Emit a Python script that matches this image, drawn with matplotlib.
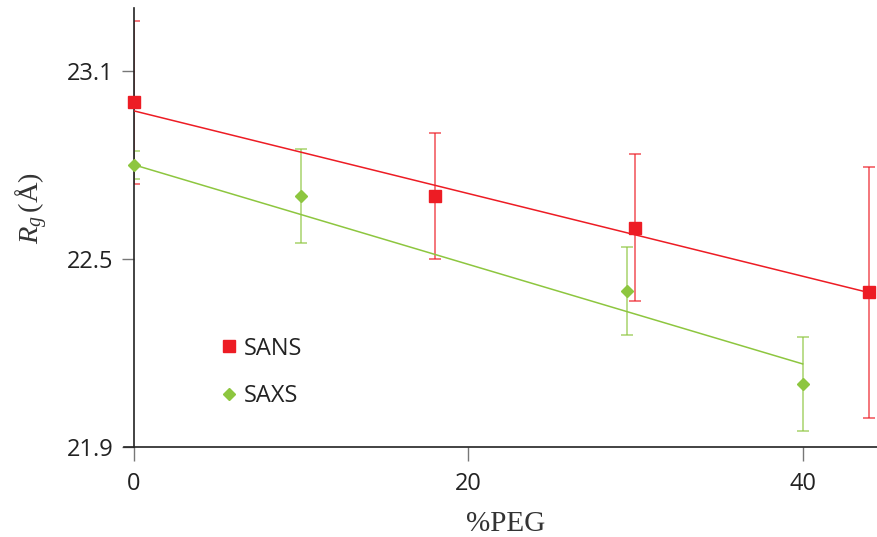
import matplotlib.pyplot as plt
import numpy as np

plt.rcParams['mathtext.fontset'] = 'custom'
plt.rcParams['mathtext.it'] = 'Liberation Serif:italic'
plt.rcParams['mathtext.rm'] = 'Liberation Serif'

# data
peg_sans = [0, 18, 30, 44]
rg_sans = [23.00, 22.70, 22.60, 22.394]
err_sans = [0.26, 0.20, 0.235, 0.40]

peg_saxs = [0, 10, 29.5, 40]
rg_saxs = [22.80, 22.70, 22.398, 22.10]
err_saxs = [0.045, 0.15, 0.14, 0.15]

# trend lines (end points)
trend_sans_x = [0, 44]
trend_sans_y = [22.972, 22.392]
trend_saxs_x = [0, 40]
trend_saxs_y = [22.80, 22.165]

red = '#ed1c24'
green = '#8dc63f'

fig = plt.figure(figsize=(8.77, 5.37), dpi=100)
ax = fig.add_axes([0.1528, 0.1676, 0.8472, 0.8174])

ax.errorbar(peg_sans, rg_sans, yerr=err_sans, fmt='none', ecolor=red, alpha=0.7,
            elinewidth=1.2, capsize=4, capthick=1.2, zorder=2)
ax.errorbar(peg_saxs, rg_saxs, yerr=err_saxs, fmt='none', ecolor=green, alpha=0.7,
            elinewidth=1.2, capsize=4, capthick=1.2, zorder=2)

ax.plot(trend_sans_x, trend_sans_y, color=red, lw=1.1, zorder=3)
ax.plot(trend_saxs_x, trend_saxs_y, color=green, lw=1.1, zorder=3)

ax.plot(peg_sans, rg_sans, 's', color=red, ms=8, zorder=4, label='SANS', clip_on=False)
ax.plot(peg_saxs, rg_saxs, 'D', color=green, ms=6, zorder=4, label='SAXS', clip_on=False)

ax.set_xlim(0, 44.45)
ax.set_ylim(21.9, 23.30)
ax.set_xticks([0, 20, 40])
ax.set_yticks([21.9, 22.5, 23.1])
ax.set_yticklabels(['21.9', '22.5', '23.1'])

for s in ['top', 'right']:
    ax.spines[s].set_visible(False)
ax.spines['left'].set_color('#222222')
ax.spines['bottom'].set_color('#222222')
ax.spines['left'].set_linewidth(1.2)
ax.spines['bottom'].set_linewidth(1.2)
ax.spines['bottom'].set_bounds(-0.6, 44.45)
ax.tick_params(axis='y', direction='out', length=9, width=1, color='#777777',
               labelsize=17, pad=6, labelcolor='#222222')
ax.tick_params(axis='x', direction='out', length=10, width=1, color='#777777',
               labelsize=17, pad=8, labelcolor='#222222')
for lab in ax.get_xticklabels() + ax.get_yticklabels():
    lab.set_family('Open Sans')

ax.set_xlabel('%PEG', family='Liberation Serif', fontsize=21, color='#333333', labelpad=11)
ax.set_ylabel(r'$R_g\,$(Å)', family='Liberation Serif', fontsize=20.5, color='#333333', labelpad=12)
ax.yaxis.label.set_y(0.545)

leg = ax.legend(loc='upper left', bbox_to_anchor=(0.087, 0.30), frameon=False,
                prop={'family': 'Open Sans', 'size': 17}, handlelength=0.8,
                handletextpad=0.2, labelspacing=1.0)
for t in leg.get_texts():
    t.set_color('#222222')

fig.savefig('out.png', dpi=100)
